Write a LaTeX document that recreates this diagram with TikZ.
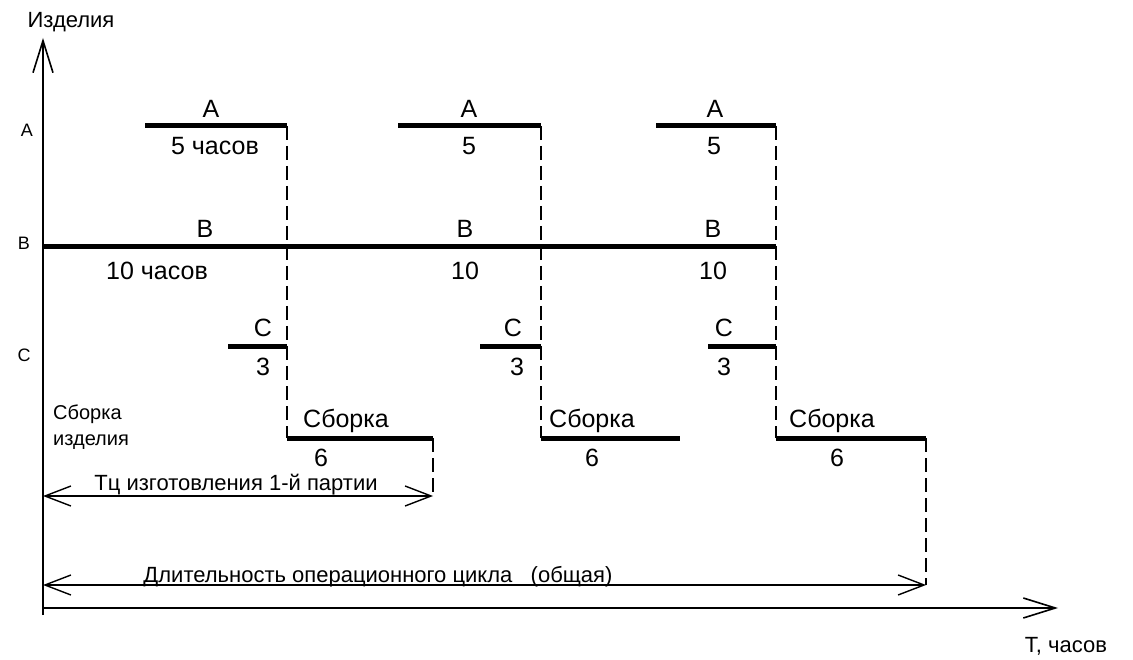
\documentclass[tikz,border=0pt]{standalone}
\usepackage{fontspec}
\setmainfont{Liberation Sans}
\usetikzlibrary{arrows.meta}
\usetikzlibrary{positioning}

\tikzset{
  bar/.style={line width=5pt},
  axis/.style={line width=1.6pt,-{Straight Barb[length=32pt,width=20pt]}},
  dimline/.style={line width=1.4pt,{Straight Barb[length=26pt,width=20pt]}-{Straight Barb[length=26pt,width=20pt]}},
  guide/.style={line width=1.6pt,dash pattern=on 14pt off 6pt},
  biglbl/.style={font=\fontsize{25}{30}\selectfont,inner sep=0pt,anchor=base},
  dimlbl/.style={font=\fontsize{22}{26}\selectfont,inner sep=0pt,anchor=base},
  axlbl/.style={font=\fontsize{22}{26}\selectfont,inner sep=0pt,anchor=base},
  rowlbl/.style={font=\fontsize{18}{22}\selectfont,inner sep=0pt},
  asmlbl/.style={font=\fontsize{20}{24}\selectfont,inner sep=0pt,anchor=base west},
}

\begin{document}
\begin{tikzpicture}[x=1pt,y=-1pt]
  \useasboundingbox (0,0) rectangle (1133,660);
  \coordinate (orig) at (43,608);
  \coordinate (ybot) at (43,615);
  \coordinate (ytip) at (43,38);
  \coordinate (xtip) at (1058,608);
  \draw[axis] (ybot)--(ytip);
  \draw[axis] (orig)--(xtip);
  \node[axlbl](yname) at (71,28) {Изделия};
  \node[axlbl](xname) at (1066,652) {Т, часов};
  \node[rowlbl](rowa) at (27,130) {А};
  \node[rowlbl](rowb) at (24,243) {В};
  \node[rowlbl](rowc) at (24,355) {С};
  \node[asmlbl](asm1) at (53,419) {Сборка};
  \node[asmlbl](asm2) at (53,445) {изделия};

  \coordinate (a1l) at (145,126); \coordinate (a1r) at (287,126);
  \coordinate (a2l) at (398,126); \coordinate (a2r) at (541,126);
  \coordinate (a3l) at (656,126); \coordinate (a3r) at (776,126);
  \coordinate (bl) at (43,247);   \coordinate (br) at (776,247);
  \coordinate (c1l) at (228,347); \coordinate (c1r) at (287,347);
  \coordinate (c2l) at (480,347); \coordinate (c2r) at (541,347);
  \coordinate (c3l) at (708,347); \coordinate (c3r) at (776,347);
  \coordinate (s1l) at (287,438); \coordinate (s1r) at (433,438);
  \coordinate (s2l) at (541,438); \coordinate (s2r) at (680,438);
  \coordinate (s3l) at (776,438); \coordinate (s3r) at (926,438);
  \coordinate (d1l) at (43,496);  \coordinate (d1r) at (433,496);
  \coordinate (d2l) at (43,585);  \coordinate (d2r) at (926,585);

  \draw[bar] (a1l)--(a1r);
  \draw[bar] (a2l)--(a2r);
  \draw[bar] (a3l)--(a3r);
  \draw[bar] (bl)--(br);
  \draw[bar] (c1l)--(c1r);
  \draw[bar] (c2l)--(c2r);
  \draw[bar] (c3l)--(c3r);
  \draw[bar] (s1l)--(s1r);
  \draw[bar] (s2l)--(s2r);
  \draw[bar] (s3l)--(s3r);

  \draw[guide] (a1r)--(s1l);
  \draw[guide] (a2r)--(s2l);
  \draw[guide] (a3r)--(s3l);
  \draw[guide] (s1r)--(d1r);
  \draw[guide] (s3r)--(d2r);

  \draw[dimline] (d1l)--(d1r);
  \draw[dimline] (d2l)--(d2r);

  \node[biglbl](a1t) at (211,118) {А};
  \node[biglbl](a2t) at (469,118) {А};
  \node[biglbl](a3t) at (715,118) {А};
  \node[biglbl](a1h) at (215,155) {5 часов};
  \node[biglbl](a2h) at (469,155) {5};
  \node[biglbl](a3h) at (714,155) {5};
  \node[biglbl](b1t) at (205,238) {В};
  \node[biglbl](b2t) at (465,238) {В};
  \node[biglbl](b3t) at (713,238) {В};
  \node[biglbl](b1h) at (157,280) {10 часов};
  \node[biglbl](b2h) at (465,280) {10};
  \node[biglbl](b3h) at (713,280) {10};
  \node[biglbl](c1t) at (263,337) {С};
  \node[biglbl](c2t) at (513,337) {С};
  \node[biglbl](c3t) at (724,337) {С};
  \node[biglbl](c1h) at (263,375) {3};
  \node[biglbl](c2h) at (517,375) {3};
  \node[biglbl](c3h) at (724,375) {3};
  \node[biglbl](s1t) at (346,428) {Сборка};
  \node[biglbl](s2t) at (592,428) {Сборка};
  \node[biglbl](s3t) at (832,428) {Сборка};
  \node[biglbl](s1h) at (321,466) {6};
  \node[biglbl](s2h) at (592,466) {6};
  \node[biglbl](s3h) at (837,466) {6};
  \node[dimlbl](d1t) at (236,490) {Тц изготовления 1-й партии};
  \node[dimlbl](d2t) at (378,582) {Длительность операционного цикла\ \ \ (общая)};
\end{tikzpicture}
\end{document}
